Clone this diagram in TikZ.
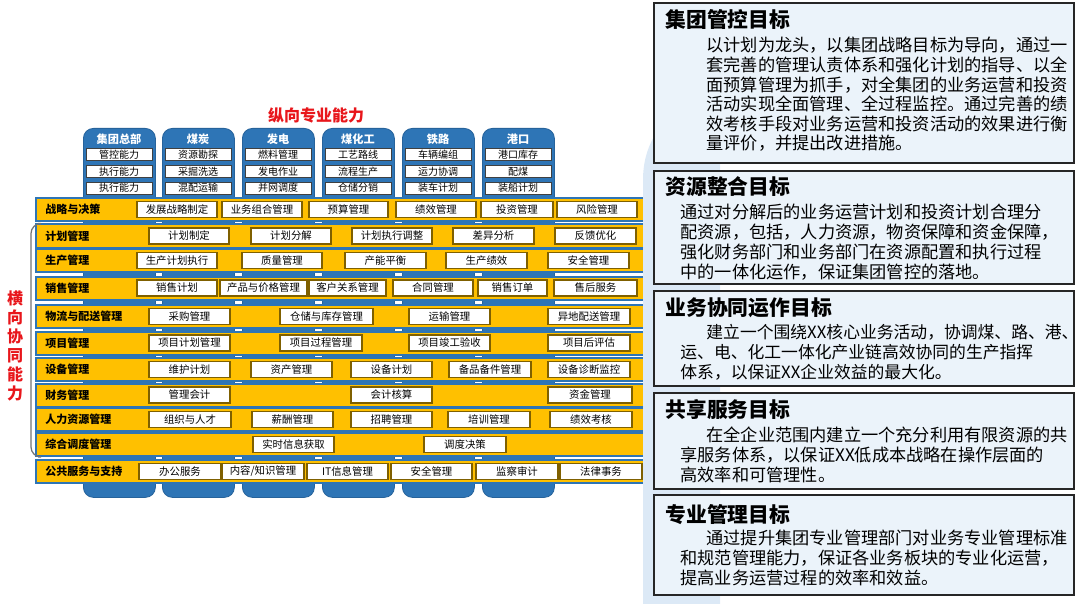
\documentclass[tikz,border=0pt]{standalone}
\usepackage{fontspec}
\setmainfont{Noto Sans CJK SC}
\usetikzlibrary{positioning}
\definecolor{colblue}{HTML}{2E75B6}
\definecolor{rowyellow}{HTML}{FFC000}
\definecolor{itemline}{HTML}{7F6000}
\definecolor{panelfill}{HTML}{EBF3FA}
\definecolor{backblue}{HTML}{DCE9F6}
\definecolor{titlered}{HTML}{E8161B}

\begin{document}
\begin{tikzpicture}[x=0.5pt,y=-0.5pt,
 column/.style={draw=colblue!85!black,fill=colblue,rounded corners=5pt,minimum width=36pt,minimum height=184.5pt,anchor=north west,inner sep=0pt},
 colhead/.style={text=white,font=\fontsize{5.6}{6}\selectfont\bfseries,inner sep=0pt},
 colitem/.style={draw=black!75,fill=white,minimum width=33pt,minimum height=6pt,inner sep=0pt,font=\fontsize{5}{5}\selectfont},
 rowband/.style={draw=colblue,line width=1pt,fill=rowyellow,minimum width=304pt,minimum height=11.5pt,inner sep=0pt},
 rowlabel/.style={anchor=west,inner sep=0pt,font=\fontsize{5.5}{6}\selectfont\bfseries},
 item/.style={draw=itemline,line width=.6pt,fill=white,minimum height=8pt,inner sep=0pt,font=\fontsize{5.2}{6}\selectfont},
 redtitle/.style={text=titlered,inner sep=0pt,font=\fontsize{8}{9.5}\selectfont\bfseries,align=center},
 panel/.style={draw=black!85,line width=.8pt,fill=panelfill,minimum width=210pt,anchor=north west,inner sep=0pt},
 ptitle/.style={anchor=west,inner sep=0pt,font=\fontsize{10.4}{12}\selectfont\bfseries},
 pbody/.style={anchor=north west,inner sep=0pt,align=left,font=\fontsize{8.6}{10}\selectfont}]
 \useasboundingbox (0,0) rectangle (1080,604);

 % vertical business columns
 \foreach \x/\n/\h/\a/\b/\c in {83/hq/集团总部/管控能力/执行能力/执行能力,162/coal/煤炭/资源勘探/采掘洗选/混配运输,242/power/发电/燃料管理/发电作业/并网调度,322/chem/煤化工/工艺路线/流程生产/仓储分销,402/rail/铁路/车辆编组/运力协调/装车计划,482/port/港口/港口库存/配煤/装船计划}{
  \node[column] (\n) at (\x,128) {};
  \node[colhead] (\n-head) at (\x+36,139) {\h};
  \node[colitem] (\n-1) at (\x+36,154.5) {\a};
  \node[colitem] (\n-2) at (\x+36,171.5) {\b};
  \node[colitem] (\n-3) at (\x+36,188) {\c};
 }
 \node[redtitle] (vtitle) at (316,115) {纵向专业能力};

 % horizontal management rows
 \foreach \y/\n/\lab in {209.5/strategy/战略与决策,236/plan/计划管理,260.5/prod/生产管理,288/sales/销售管理,316.5/logi/物流与配送管理,343/proj/项目管理,369.5/equip/设备管理,395/fin/财务管理,419.5/hr/人力资源管理,444.5/dispatch/综合调度管理,471.5/service/公共服务与支持}{
  \node[rowband] (\n) at (340,\y) {};
  \node[rowlabel] (\n-label) at (45,\y) {\lab};
 }
 \foreach \a/\b/\t [count=\i] in {137/217/发展战略制定,222/302/业务组合管理,309/388/预算管理,396/476/绩效管理,481/553/投资管理,557/637/风险管理}
  \node[item,minimum width={(\b-\a)*0.5pt}] (strategy-\i) at ({(\a+\b)/2},209.5) {\t};
 \foreach \a/\b/\t [count=\i] in {149/229/计划制定,251/331/计划分解,352/432/计划执行调整,453/534/差异分析,555/636/反馈优化}
  \node[item,minimum width={(\b-\a)*0.5pt}] (plan-\i) at ({(\a+\b)/2},236) {\t};
 \foreach \a/\b/\t [count=\i] in {137/217/生产计划执行,242/322/质量管理,345/426/产能平衡,446/527/生产绩效,548/629/安全管理}
  \node[item,minimum width={(\b-\a)*0.5pt}] (prod-\i) at ({(\a+\b)/2},260.5) {\t};
 \foreach \a/\b/\t [count=\i] in {137/217/销售计划,220/307/产品与价格管理,309/386/客户关系管理,393/473/合同管理,478/547/销售订单,554/637/售后服务}
  \node[item,minimum width={(\b-\a)*0.5pt}] (sales-\i) at ({(\a+\b)/2},288) {\t};
 \foreach \a/\b/\t [count=\i] in {149/230/采购管理,280/373/仓储与库存管理,409/490/运输管理,548/630/异地配送管理}
  \node[item,minimum width={(\b-\a)*0.5pt}] (logi-\i) at ({(\a+\b)/2},316.5) {\t};
 \foreach \a/\b/\t [count=\i] in {149/230/项目计划管理,280/362/项目过程管理,409/490/项目竣工验收,548/630/项目后评估}
  \node[item,minimum width={(\b-\a)*0.5pt}] (proj-\i) at ({(\a+\b)/2},343) {\t};
 \foreach \a/\b/\t [count=\i] in {149/230/维护计划,251/332/资产管理,351/432/设备计划,449/531/备品备件管理,548/630/设备诊断监控}
  \node[item,minimum width={(\b-\a)*0.5pt}] (equip-\i) at ({(\a+\b)/2},369.5) {\t};
 \foreach \a/\b/\t [count=\i] in {149/230/管理会计,351/432/会计核算,548/632/资金管理}
  \node[item,minimum width={(\b-\a)*0.5pt}] (fin-\i) at ({(\a+\b)/2},395) {\t};
 \foreach \a/\b/\t [count=\i] in {149/231/组织与人才,252/333/薪酬管理,351/432/招聘管理,448/530/培训管理,550/632/绩效考核}
  \node[item,minimum width={(\b-\a)*0.5pt}] (hr-\i) at ({(\a+\b)/2},419.5) {\t};
 \foreach \a/\b/\t [count=\i] in {253/334/实时信息获取,424/506/调度决策}
  \node[item,minimum width={(\b-\a)*0.5pt}] (dispatch-\i) at ({(\a+\b)/2},444.5) {\t};
 \foreach \a/\b/\t [count=\i] in {139/221/办公服务,222/304/{内容/知识管理},307/388/IT信息管理,391/472/安全管理,476/558/监察审计,560/642/法律事务}
  \node[item,minimum width={(\b-\a)*0.5pt}] (service-\i) at ({(\a+\b)/2},471.5) {\t};

 % bracket for the coordinated rows
 \draw[black!55,line width=.6pt,rounded corners=5pt] ([xshift=1.5pt]plan.north west) -| ([xshift=-2pt]dispatch.south west) -- ([xshift=1.5pt]dispatch.south west);
 \node[redtitle] (htitle) at (15,346) {横\\向\\协\\同\\能\\力};

 % goal panels
 \fill[backblue] (643,604) -- (643,180) to[out=90,in=200] (700,100) -- (720,100) -- (720,604) -- cycle;
 \node[panel,minimum height=80pt] (control) at (653,2) {};
 \node[ptitle] (control-title) at (665,20) {集团管控目标};
 \node[pbody,font=\fontsize{8.6}{9.8}\selectfont] (control-text) at (706,37) {以计划为龙头，以集团战略目标为导向，通过一\\套完善的管理认责体系和强化计划的指导、以全\\面预算管理为抓手，对全集团的业务运营和投资\\活动实现全面管理、全过程监控。通过完善的绩\\效考核手段对业务运营和投资活动的效果进行衡\\量评价，并提出改进措施。};

 \node[panel,minimum height=56.5pt] (resource) at (653,170) {};
 \node[ptitle] (resource-title) at (665,187) {资源整合目标};
 \node[pbody] (resource-text) at (680,204) {通过对分解后的业务运营计划和投资计划合理分\\配资源，包括，人力资源，物资保障和资金保障，\\强化财务部门和业务部门在资源配置和执行过程\\中的一体化运作，保证集团管控的落地。};

 \node[panel,minimum height=47.5pt] (synergy) at (653,290) {};
 \node[ptitle] (synergy-title) at (665,308) {业务协同运作目标};
 \node[pbody,font=\fontsize{8.4}{10}\selectfont] (synergy-text) at (680,324) {\hspace{13pt}建立一个围绕XX核心业务活动，协调煤、路、港、\\运、电、化工一体化产业链高效协同的生产指挥\\体系，以保证XX企业效益的最大化。};

 \node[panel,minimum height=48pt] (shared) at (653,392) {};
 \node[ptitle] (shared-title) at (665,410) {共享服务目标};
 \node[pbody] (shared-text) at (680,426) {\hspace{13pt}在全企业范围内建立一个充分利用有限资源的共\\享服务体系，以保证XX低成本战略在操作层面的\\高效率和可管理性。};

 \node[panel,minimum height=50pt] (expert) at (653,494) {};
 \node[ptitle] (expert-title) at (665,515) {专业管理目标};
 \node[pbody] (expert-text) at (680,530) {\hspace{13pt}通过提升集团专业管理部门对业务专业管理标准\\和规范管理能力，保证各业务板块的专业化运营，\\提高业务运营过程的效率和效益。};
\end{tikzpicture}
\end{document}
